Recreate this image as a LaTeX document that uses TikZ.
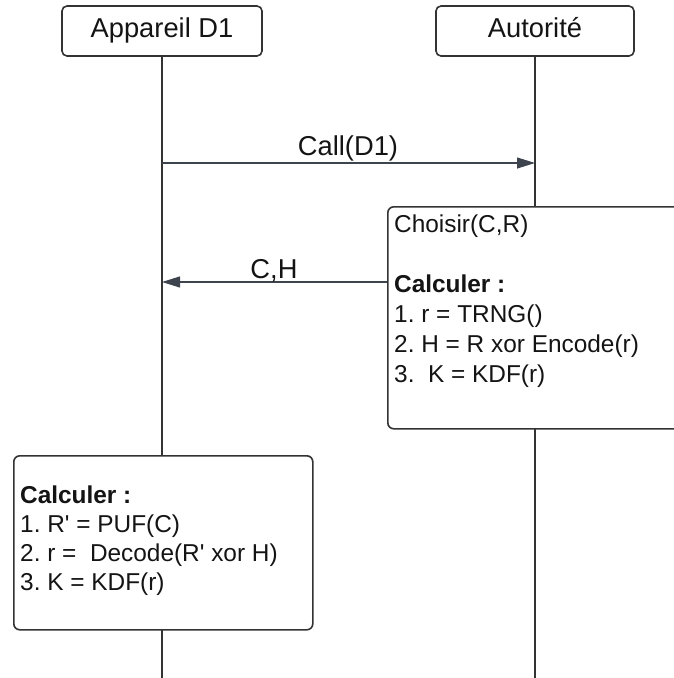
\documentclass[tikz,border=0pt]{standalone}
\usepackage{fontspec}
\setmainfont{Liberation Sans}
\usetikzlibrary{arrows.meta}
\definecolor{linegray}{RGB}{51,51,51}
\definecolor{arrowgray}{RGB}{62,68,77}
\definecolor{ink}{RGB}{20,20,20}
\newcommand{\sq}{\textquotesingle}
\frenchspacing
\begin{document}
\begin{tikzpicture}[x=1pt,y=-1pt,
  actor/.style={draw=linegray, line width=1.6pt, rounded corners=5pt, fill=white,
    minimum height=50pt, inner sep=0pt, text=ink, text height=19pt, text depth=5.5pt,
    font=\fontsize{27.3}{32}\selectfont},
  lifeline/.style={draw=linegray, line width=1.6pt},
  activity/.style={draw=linegray, line width=1.6pt, rounded corners=6pt, fill=white,
    anchor=north west, inner sep=0pt},
  boxtext/.style={anchor=base west, inner sep=0pt, text=ink, font=\fontsize{24.4}{29}\selectfont},
  msg/.style={draw=arrowgray, line width=1.1pt, -{Triangle[length=18pt,width=11pt]}},
  msglabel/.style={anchor=base, inner sep=0pt, text=ink, font=\fontsize{27.3}{32}\selectfont}
]
\clip (0,0) rectangle (674,678);

% participants
\node[actor, minimum width=200pt] (dev) at (162,31) {Appareil D1};
\node[actor, minimum width=198pt] (auth) at (535,31) {Autorité};

% lifeline anchor points
\coordinate (devEnd) at (162,678);
\coordinate (authEnd) at (535,678);
\coordinate (devActTop) at (162,455);
\coordinate (devActBot) at (162,629);
\coordinate (authActTop) at (535,206);
\coordinate (authActBot) at (535,428);

\draw[lifeline] (dev.south) -- (devActTop);
\draw[lifeline] (devActBot) -- (devEnd);
\draw[lifeline] (auth.south) -- (authActTop);
\draw[lifeline] (authActBot) -- (authEnd);

% activation boxes
\node[activity, minimum width=303pt, minimum height=222pt] (authAct) at (387,206) {};
\node[activity, minimum width=299pt, minimum height=174pt] (devAct) at (13,455) {};

% authority computations
\node[boxtext] (a1) at (394,232) {Choisir(C,R)};
\node[boxtext] (a2) at (394,292) {\bfseries Calculer :};
\node[boxtext] (a3) at (394,322) {1. r = TRNG()};
\node[boxtext] (a4) at (394,352) {2. H = R xor Encode(r)};
\node[boxtext] (a5) at (394,382) {3.\ \ K = KDF(r)};

% device computations
\node[boxtext] (d1) at (20,503) {\bfseries Calculer :};
\node[boxtext] (d2) at (20,532) {1. R\sq{} = PUF(C)};
\node[boxtext] (d3) at (20,561) {2. r =\ \ Decode(R\sq{} xor H)};
\node[boxtext] (d4) at (20,590) {3. K = KDF(r)};

% messages
\coordinate (callFrom) at (162,163);
\coordinate (callTo) at (535,163);
\draw[msg] (callFrom) -- (callTo);
\node[msglabel] (callLbl) at (348,155) {Call(D1)};

\coordinate (chFrom) at (authAct.west |- 0,282);
\coordinate (chTo) at (162,282);
\draw[msg] (chFrom) -- (chTo);
\node[msglabel] (chLbl) at (274,278) {C,H};
\end{tikzpicture}
\end{document}
